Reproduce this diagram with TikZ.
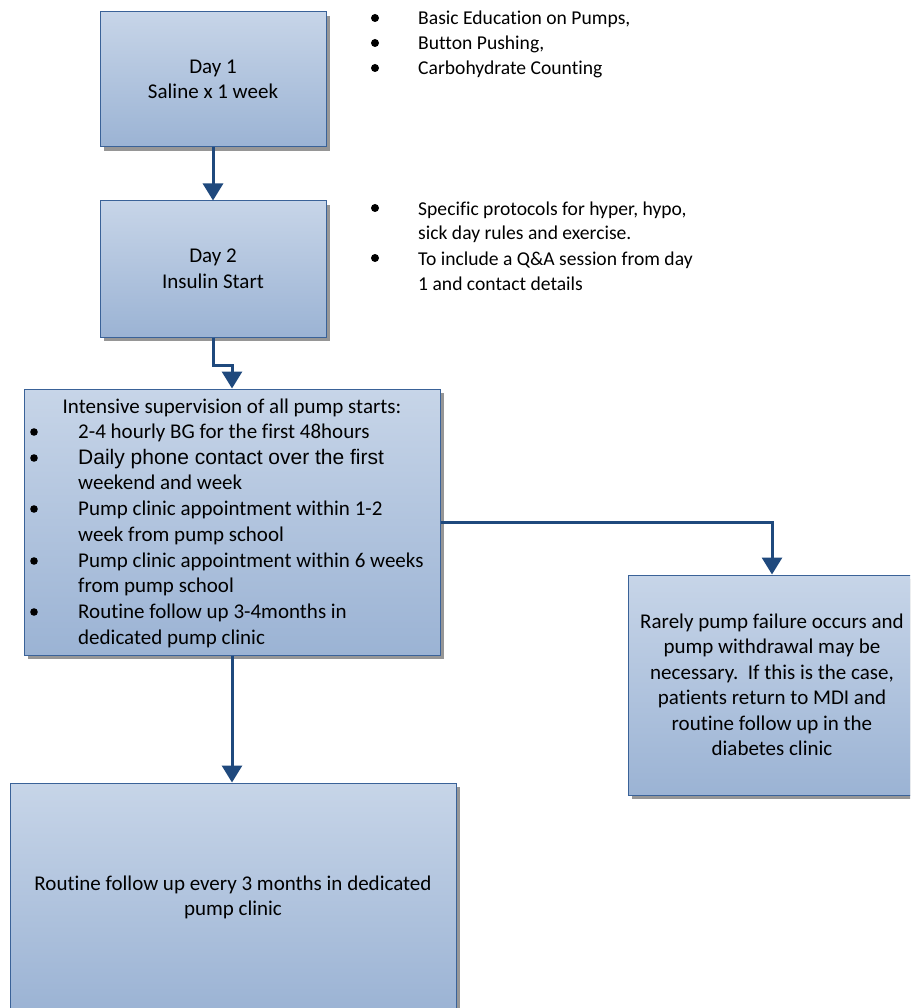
\documentclass[tikz,border=0pt]{standalone}
\usepackage{fontspec}
\setmainfont{Carlito}[Ligatures=NoCommon]
\newfontfamily\arialf{Liberation Sans}
\usetikzlibrary{arrows.meta,shadows}
\definecolor{boxtop}{RGB}{199,213,232}
\definecolor{boxbot}{RGB}{155,179,212}
\definecolor{boxline}{RGB}{58,98,152}
\definecolor{arrowc}{RGB}{31,73,125}
\definecolor{shadowc}{RGB}{150,150,150}
\begin{document}
\begin{tikzpicture}[x=1pt,y=-1pt,
  flowbox/.style={draw=boxline, line width=1pt, top color=boxtop, bottom color=boxbot,
    inner sep=0pt, align=center, font=\fontsize{21}{25.5}\selectfont,
    drop shadow={shadow xshift=4pt, shadow yshift=-4pt, fill=shadowc, opacity=1}},
  flowarrow/.style={draw=arrowc, line width=3pt, -{Triangle[width=20pt,length=17pt]}},
  boxitem/.style={anchor=base west, inner sep=0pt, font=\fontsize{21}{25.5}\selectfont},
  sideitem/.style={anchor=base west, inner sep=0pt, font=\fontsize{19.6}{25}\selectfont},
  dot/.style={fill=black}]
\useasboundingbox (0,0) rectangle (910,1008);
\begin{scope}
\clip (0,0) rectangle (910,1008);
% boxes
\node[flowbox, minimum width=226pt, minimum height=135pt] (b1) at (213,79.5) {Day 1\\Saline x 1 week};
\node[flowbox, minimum width=226pt, minimum height=136pt] (b2) at (213,269) {Day 2\\Insulin Start};
\node[flowbox, minimum width=416pt, minimum height=266pt] (b3) at (232,522) {};
\node[flowbox, minimum width=288pt, minimum height=220pt] (b4) at (772,685) {Rarely pump failure occurs and\\pump withdrawal may be\\necessary.\ \ If this is the case,\\patients return to MDI and\\routine follow up in the\\diabetes clinic};
\node[flowbox, minimum width=446pt, minimum height=229pt] (b5) at (233,897.5) {Routine follow up every 3 months in dedicated\\pump clinic};
\end{scope}

% box 3 text
\node[anchor=base, inner sep=0pt, font=\fontsize{21}{25.5}\selectfont] (t0) at (232,413) {Intensive supervision of all pump starts:};
\fill[dot] (34,432) circle (3.8);
\node[boxitem] (t1) at (78,438) {2-4 hourly BG for the first 48hours};
\fill[dot] (34,458) circle (3.8);
\node[boxitem, font=\arialf\fontsize{21}{25.5}\selectfont] (t2) at (78,464) {Daily phone contact over the first};
\node[boxitem] (t2b) at (78,489) {weekend and week};
\fill[dot] (34,509) circle (3.8);
\node[boxitem] (t3) at (78,515) {Pump clinic appointment within 1-2};
\node[boxitem] (t3b) at (78,541) {week from pump school};
\fill[dot] (34,561) circle (3.8);
\node[boxitem] (t4) at (78,567) {Pump clinic appointment within 6 weeks};
\node[boxitem] (t4b) at (78,592) {from pump school};
\fill[dot] (34,612) circle (3.8);
\node[boxitem] (t5) at (78,618) {Routine follow up 3-4months in};
\node[boxitem] (t5b) at (78,644) {dedicated pump clinic};

% side bullet lists
\fill[dot] (375,18) circle (4);
\node[sideitem] (s1) at (418,25) {Basic Education on Pumps,};
\fill[dot] (375,43) circle (4);
\node[sideitem] (s2) at (418,50) {Button Pushing,};
\fill[dot] (375,68) circle (4);
\node[sideitem] (s3) at (418,75) {Carbohydrate Counting};

\fill[dot] (375,208) circle (4);
\node[sideitem] (p1) at (418,215) {Specific protocols for hyper, hypo,};
\node[sideitem] (p1b) at (418,240) {sick day rules and exercise.};
\fill[dot] (375,258) circle (4);
\node[sideitem] (p2) at (418,265) {To include a Q\&A session from day};
\node[sideitem] (p2b) at (418,290) {1 and contact details};

% connectors
\coordinate (e1) at (213,365);
\coordinate (e2) at (772,522);
\draw[flowarrow] (b1.south) -- (b2.north);
\draw[flowarrow] (b2.south) -- (e1) -| (b3.north);
\draw[flowarrow] (b3.east) -- (e2) -- (b4.north);
\draw[flowarrow] (b3.south) -- (b3.south |- b5.north);
\end{tikzpicture}
\end{document}
